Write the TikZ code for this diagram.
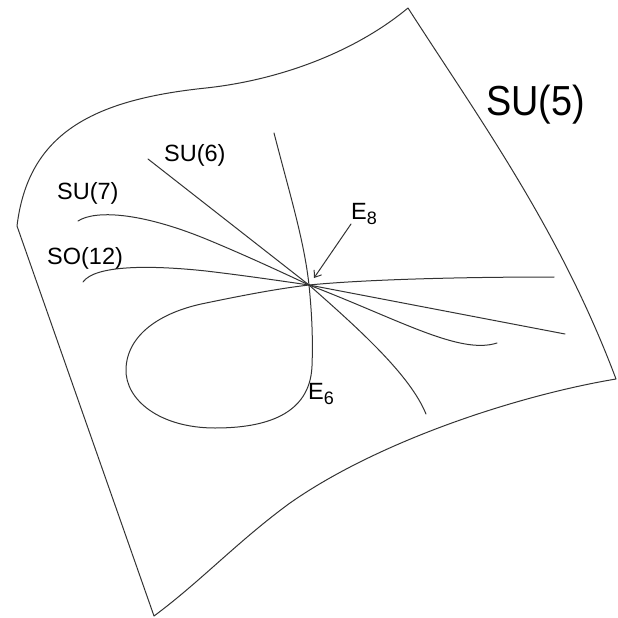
\documentclass[tikz,border=0pt]{standalone}
\usepackage{fontspec}
\setmainfont{Liberation Sans}
\newfontfamily\bigfont[FakeStretch=0.9]{Liberation Sans}
\usetikzlibrary{arrows.meta}
\begin{document}
\begin{tikzpicture}[x=1pt,y=-1pt,
  curve/.style={draw=black!80, line width=1pt, line cap=round, line join=round},
  lab/.style={inner sep=0pt, anchor=base west, font=\fontsize{23.5}{28}\selectfont}]
\useasboundingbox (0,0) rectangle (618,618);
\coordinate (P) at (309,285);
% sheet outline
\draw[curve] (408,8) .. controls (355,52) and (280,80) .. (206,88)
  .. controls (90,100) and (28,135) .. (17,226) -- (154,616)
  .. controls (200,582) and (238,541) .. (290,503)
  .. controls (380,440) and (520,395) .. (616,379)
  .. controls (560,230) and (480,120) .. (408,8);
% curves through the E8 point
\draw[curve] (274,133) .. controls (290,195) and (304,240) .. (P)
  .. controls (312,315) and (313,340) .. (312,366)
  .. controls (310,415) and (265,428) .. (215,428)
  .. controls (160,428) and (125,400) .. (126,369)
  .. controls (127,335) and (160,312) .. (206,303)
  .. controls (240,296) and (275,289) .. (P)
  .. controls (360,280) and (450,277) .. (554,277);
\draw[curve] (148,159) -- (P);
\draw[curve] (78,221) .. controls (95,210) and (140,212) .. (206,239)
  .. controls (240,253) and (275,269) .. (P);
\draw[curve] (83,282) .. controls (95,265) and (150,265) .. (206,271)
  .. controls (240,275) and (275,280) .. (P);
\draw[curve] (P) -- (565,334);
\draw[curve] (P) .. controls (400,320) and (460,355) .. (497,343);
\draw[curve] (P) .. controls (360,330) and (410,375) .. (426,414);
% labels
\node[lab] (su6) at (164,161) {SU(6)};
\node[lab] (su7) at (57,199) {SU(7)};
\node[lab] (so12) at (47,264) {SO(12)};
\node[inner sep=0pt, anchor=base west, font=\bigfont\fontsize{42}{50}\selectfont] (su5) at (486,115) {SU(5)};
\node[lab] (e8) at (351,219) {E\raisebox{-5pt}{\fontsize{18}{18}\selectfont 8}};
\node[lab] (e6) at (308,399) {E\raisebox{-5pt}{\fontsize{18}{18}\selectfont 6}};
\coordinate (tail) at (351,224);
\coordinate (tip) at (314,278);
\draw[curve, -{Straight Barb[length=6pt,width=9pt]}] (tail) -- (tip);
\end{tikzpicture}
\end{document}
